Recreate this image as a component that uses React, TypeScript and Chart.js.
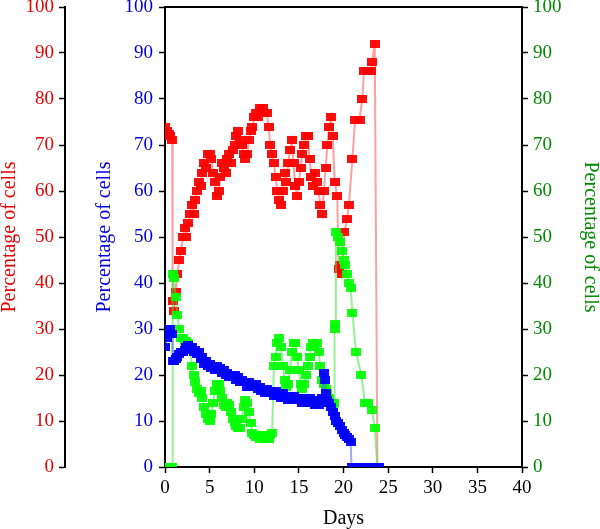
import { useEffect, useRef } from "react";
import { Chart, registerables } from "chart.js";

Chart.register(...registerables);

// Time axis (days) and the three cell-population series (% of cells)
const redDays = [
  0, 0.2, 0.4, 0.6, 0.8, 0.86,
  1.0, 1.2, 1.4, 1.6, 1.8,
  2.0, 2.2, 2.4, 2.6, 2.8,
  3.0, 3.2, 3.4, 3.6, 3.8,
  4.0, 4.2, 4.4, 4.6, 4.8,
  5.0, 5.2, 5.4, 5.6, 5.8,
  6.0, 6.2, 6.4, 6.6, 6.8,
  7.0, 7.2, 7.4, 7.6, 7.8,
  8.0, 8.2, 8.4, 8.6, 8.8,
  9.0, 9.2, 9.4, 9.6, 9.8,
  10.0, 10.2, 10.4, 10.6, 10.8,
  11.0, 11.2, 11.4, 11.6, 11.8,
  12.0, 12.2, 12.4, 12.6, 12.8,
  13.0, 13.2, 13.4, 13.6, 13.8,
  14.0, 14.2, 14.4, 14.6, 14.8,
  15.0, 15.2, 15.4, 15.6, 15.8,
  16.0, 16.2, 16.4, 16.6, 16.8,
  17.0, 17.2, 17.4, 17.6, 17.8,
  18.0, 18.2, 18.4, 18.6, 18.8,
  19.0, 19.3, 19.45, 19.6, 19.8,
  20.1, 20.4, 20.6, 21.0, 21.3, 21.8, 22.1, 22.3, 22.8, 23.1, 23.2, 23.5, 23.8,
];
const redPct = [
  74, 73, 72.5, 72, 71, 36,
  34, 38, 42, 45, 47,
  50, 52, 50, 53, 55,
  57, 55, 58, 60, 62,
  61, 64, 66, 65, 68,
  68, 67, 64, 62, 59,
  60, 63, 66, 65, 64,
  67, 68, 66, 69, 70,
  72, 73, 71, 70, 68,
  67, 68, 71, 73, 74,
  76, 77, 76, 78, 77,
  78, 77, 77, 74, 70,
  68, 66, 63, 60, 58,
  57, 60, 64, 62, 66,
  69, 71, 66, 61, 59,
  62, 65, 68, 70, 72,
  72, 67, 63, 61, 64,
  62, 60, 57, 55, 60,
  65, 70, 74, 76, 72,
  62, 59, 43, 44, 42,
  51, 54, 57, 67, 75.5, 75.5, 80, 86, 86, 86, 88, 92, 0,
];

const blueDays = [
  0, 0.2, 0.4, 0.6, 0.8, 0.86,
  1.0, 1.2, 1.4, 1.6, 1.8,
  2.0, 2.2, 2.4, 2.6, 2.8,
  3.0, 3.2, 3.4, 3.6, 3.8,
  4.0, 4.2, 4.4, 4.6, 4.8,
  5.0, 5.2, 5.4, 5.6, 5.8,
  6.0, 6.2, 6.4, 6.6, 6.8,
  7.0, 7.2, 7.4, 7.6, 7.8,
  8.0, 8.2, 8.4, 8.6, 8.8,
  9.0, 9.2, 9.4, 9.6, 9.8,
  10.0, 10.2, 10.4, 10.6, 10.8,
  11.0, 11.2, 11.4, 11.6, 11.8,
  12.0, 12.2, 12.4, 12.6, 12.8,
  13.0, 13.2, 13.4, 13.6, 13.8,
  14.0, 14.2, 14.4, 14.6, 14.8,
  15.0, 15.2, 15.4, 15.6, 15.8,
  16.0, 16.2, 16.4, 16.6, 16.8,
  17.0, 17.2, 17.4, 17.6, 17.8, 17.9,
  18.0, 18.2, 18.4, 18.6, 18.8,
  19.0, 19.2, 19.4, 19.6, 19.8,
  20.0, 20.2, 20.4, 20.6, 20.8,
  20.9, 21.5, 22.0, 22.5, 23.0, 23.5, 24.0,
];
const bluePct = [
  26, 28, 29, 30, 29, 23,
  23, 23.5, 24, 24.5, 25,
  25, 25.5, 26, 26.5, 26,
  26, 25, 25.5, 24.5, 25,
  23.5, 24, 22.5, 23, 22,
  22.5, 21.5, 22, 21, 22,
  21, 21.5, 20.5, 21, 20,
  20.5, 19.5, 20, 19.5, 20,
  19, 19.5, 18.5, 19, 18.5,
  18.5, 17.5, 18.5, 17.5, 18,
  17.5, 18, 17, 17.5, 16.5,
  17, 16, 17, 16, 16.5,
  16, 15.5, 16.5, 15.5, 16,
  15, 16, 15, 15.5, 14.5,
  15.5, 14.5, 15.5, 14.5, 15,
  14.5, 15, 14, 15, 14.5,
  14, 15, 14, 14.5, 13.5,
  14.5, 13.5, 14.5, 15, 20.5, 19,
  16, 14.5, 14, 13, 12,
  11, 10, 9.5, 9, 8,
  7.5, 7, 6.5, 6, 5.5,
  0, 0, 0, 0, 0, 0, 0,
];

const greenDays = [
  0, 0.2, 0.4, 0.6, 0.8, 0.86,
  1.0, 1.2, 1.4, 1.6, 1.8,
  2.0, 2.2, 2.4, 2.6, 2.8,
  3.0, 3.2, 3.4, 3.6, 3.8,
  4.0, 4.2, 4.4, 4.6, 4.8,
  5.0, 5.2, 5.4, 5.6, 5.8,
  6.0, 6.2, 6.4, 6.6, 6.8,
  7.0, 7.2, 7.4, 7.6, 7.8,
  8.0, 8.2, 8.4, 8.6, 8.8,
  9.0, 9.2, 9.4, 9.6, 9.8,
  10.0, 10.2, 10.4, 10.6, 10.8,
  11.0, 11.2, 11.4, 11.6, 11.8,
  12.0, 12.2, 12.4, 12.6, 12.8,
  13.0, 13.2, 13.4, 13.6, 13.8,
  14.0, 14.2, 14.4, 14.6, 14.8,
  15.0, 15.2, 15.4, 15.6, 15.8,
  16.0, 16.2, 16.4, 16.6, 16.8,
  17.0, 17.2, 17.4, 17.6, 17.8,
  18.0, 18.2, 18.4, 18.6, 18.8, 18.95,
  19.0, 19.1, 19.15, 19.4, 19.6, 19.8,
  20.0, 20.2, 20.4, 20.6, 20.8,
  21.0, 21.4, 22.0, 22.4, 22.8, 23.2, 23.5, 23.8,
];
const greenPct = [
  0, 0, 0, 0, 0, 42,
  41, 37, 33, 30, 28,
  28, 27.5, 27.5, 27, 26,
  22, 20, 18.5, 17, 16,
  16.5, 15, 13, 11.5, 10.5,
  10, 11.5, 14, 16.5, 18,
  18, 16.5, 15, 13.5, 13,
  14, 13.5, 12, 10.5, 9.5,
  9, 8.5, 8.5, 10.5, 13,
  14.5, 14, 12, 9.5, 7.5,
  7, 6.5, 7, 6, 6.5,
  7, 6, 6.5, 6, 7,
  7.5, 22, 24, 27, 28,
  26, 22, 19, 17.5, 18,
  21, 25, 27, 27, 24,
  21, 18, 17, 18, 20,
  22, 24, 26, 27, 26,
  27, 25, 22, 19, 18,
  17, 16, 15, 14, 13.5, 14,
  31, 30, 51, 50, 49, 47,
  45, 44, 42, 40, 39,
  33.5, 25, 20, 14, 14, 12.5, 8.5, 0,
];

const dayTicks = [0, 5, 10, 15, 20, 25, 30, 35, 40];
const pctTicks = [0, 10, 20, 30, 40, 50, 60, 70, 80, 90, 100];

const AXIS_TITLE = "Percentage of cells";
const SERIF = "'Liberation Serif', 'Times New Roman', serif";

function zip(xs: number[], ys: number[]) {
  return xs.map((x, i) => ({ x, y: ys[i] }));
}

// small filled rectangle used as the point marker
function squareMarker(color: string): HTMLCanvasElement {
  const c = document.createElement("canvas");
  c.width = 10;
  c.height = 8;
  const g = c.getContext("2d")!;
  g.fillStyle = color;
  g.fillRect(0, 0, 10, 8);
  return c;
}

// closes the plot frame along the top edge
const topFrame = {
  id: "topFrame",
  afterDatasetsDraw(chart: any) {
    const { ctx, chartArea } = chart;
    ctx.save();
    ctx.strokeStyle = "#000";
    ctx.lineWidth = 2;
    ctx.beginPath();
    ctx.moveTo(chartArea.left - 1, chartArea.top);
    ctx.lineTo(chartArea.right + 1, chartArea.top);
    ctx.stroke();
    ctx.restore();
  },
};

function yAxis(
  position: "left" | "right",
  weight: number,
  color: string,
  boxWidth: number,
  titlePad: number,
  labelPad: number
) {
  return {
    type: "linear" as const,
    position,
    weight,
    min: 0,
    max: 100,
    afterBuildTicks(scale: any) {
      scale.ticks = pctTicks.map((v) => ({ value: v }));
    },
    afterFit(scale: any) {
      scale.width = boxWidth;
      scale.paddingTop = 0;
      scale.paddingBottom = 0;
    },
    ticks: {
      color,
      font: { family: SERIF, size: 19, lineHeight: 1 },
      padding: labelPad,
    },
    grid: {
      display: true,
      drawOnChartArea: false,
      drawTicks: true,
      tickLength: 6,
      tickColor: "#000",
      tickWidth: 1.5,
    },
    border: { display: true, color: "#000", width: 2 },
    title: {
      display: true,
      text: AXIS_TITLE,
      color,
      font: { family: SERIF, size: 20, lineHeight: 1 },
      padding: { top: titlePad, bottom: 0 },
    },
  };
}

export default function App() {
  const canvasRef = useRef<HTMLCanvasElement | null>(null);

  useEffect(() => {
    document.body.style.margin = "0";
    const canvas = canvasRef.current;
    if (!canvas) return;

    const series = (
      label: string,
      xs: number[],
      ys: number[],
      axis: string,
      marker: string,
      line: string,
      order: number
    ) => ({
      label,
      data: zip(xs, ys),
      yAxisID: axis,
      xAxisID: "x",
      borderColor: line,
      borderWidth: 2,
      pointStyle: squareMarker(marker) as any,
      pointRadius: 4,
      pointHoverRadius: 4,
      tension: 0,
      fill: false,
      order,
    });

    const chart = new Chart(canvas, {
      type: "line",
      data: {
        datasets: [
          series("blue", blueDays, bluePct, "yBlue", "rgba(0,0,255,0.95)", "rgba(90,90,255,0.55)", 1),
          series("green", greenDays, greenPct, "yGreen", "rgba(0,255,0,0.92)", "rgba(60,230,60,0.55)", 2),
          series("red", redDays, redPct, "yRed", "rgba(255,0,0,0.95)", "rgba(255,80,80,0.55)", 3),
        ],
      },
      options: {
        animation: false,
        responsive: true,
        maintainAspectRatio: false,
        parsing: false as any,
        layout: { padding: { top: 7, left: 0, right: 0, bottom: 0 } },
        plugins: {
          legend: { display: false },
          tooltip: { enabled: false },
        },
        scales: {
          x: {
            type: "linear",
            position: "bottom",
            min: 0,
            max: 40,
            afterBuildTicks(scale: any) {
              scale.ticks = dayTicks.map((v) => ({ value: v }));
            },
            afterFit(scale: any) {
              scale.height = 62;
              scale.paddingLeft = 0;
              scale.paddingRight = 0;
            },
            ticks: {
              color: "#000",
              font: { family: SERIF, size: 19, lineHeight: 1 },
              padding: 6,
              maxRotation: 0,
            },
            grid: {
              display: true,
              drawOnChartArea: false,
              drawTicks: true,
              tickLength: 6,
              tickColor: "#000",
              tickWidth: 1.5,
            },
            border: { display: true, color: "#000", width: 2 },
            title: {
              display: true,
              text: "Days",
              color: "#000",
              font: { family: SERIF, size: 20, lineHeight: 1 },
              padding: { top: 0, bottom: 0 },
            },
          },
          yRed: yAxis("left", 2, "#e60000", 65, 0, 5),
          yBlue: yAxis("left", 1, "#0000dd", 100, 30, 6),
          yGreen: yAxis("right", 0, "#008a00", 78, 0, 5),
        } as any,
      },
      plugins: [topFrame],
    });

    return () => chart.destroy();
  }, []);

  return (
    <div style={{ position: "relative", width: 600, height: 529 }}>
      <canvas ref={canvasRef} />
    </div>
  );
}
